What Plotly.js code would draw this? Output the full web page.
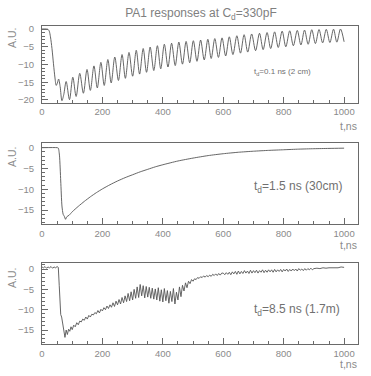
<!DOCTYPE html>
<html><head><meta charset="utf-8">
<script src="https://cdn.plot.ly/plotly-3.0.1.min.js"></script>
<style>html,body{margin:0;padding:0;background:#fff}#c{width:371px;height:376px}</style>
</head><body><div id="c"></div>
<script>
// Panel 1: td = 0.1 ns (peaks/troughs)
const t1 = [0,15,20,24,28,33,38,43,47,51,55,60,66,72,80,91,102,113,125,137,149,160,172,183,195,206,218,229,241,253,265,276,288,300,312,323,335,346,358,370,382,393,405,417,429,441,453,465,477,489,501,513,525,537,549,560,572,584,596,608,620,632,645,657,669,681,694,707,720,732,745,757,770,782,795,807,820,832,845,857,869,881,893,905,917,929,941,953,965,976,988,1000];
const v1 = [0,0,-0.1,-0.6,-2.2,-5.5,-9.8,-13.8,-15.9,-15.2,-14.1,-16.2,-20.2,-18.5,-14.8,-19.9,-13.6,-19.0,-12.5,-18.1,-11.4,-17.3,-10.4,-16.6,-9.4,-15.9,-8.6,-15.2,-7.9,-14.5,-7.2,-13.9,-6.6,-13.3,-6.0,-12.7,-5.5,-12.2,-5.1,-11.7,-4.7,-11.2,-4.3,-10.7,-4.0,-10.3,-3.7,-9.9,-3.5,-9.5,-3.3,-9.1,-3.1,-8.7,-2.9,-8.3,-2.7,-8.0,-2.5,-7.6,-2.2,-7.2,-1.9,-6.8,-1.6,-6.5,-1.4,-6.1,-1.2,-5.8,-1.0,-5.5,-0.8,-5.2,-0.6,-5.0,-0.5,-4.7,-0.4,-4.5,-0.3,-4.3,-0.2,-4.1,-0.15,-3.9,-0.1,-3.8,-0.05,-3.7,0.0,-3.6];

// Panel 2: td = 1.5 ns
const t2 = [0,50,54,58,62,66,70,74,78,82,90,100,120,140,160,180,200,225,250,275,300,325,350,375,400,450,500,550,600,650,700,750,800,850,900,950,1000];
const v2 = [0,0,-0.1,-2,-8,-14,-16,-16.5,-17.2,-16.6,-16.2,-15.4,-14.1,-12.9,-11.8,-10.8,-9.9,-8.9,-8.0,-7.2,-6.5,-5.8,-5.2,-4.6,-4.1,-3.2,-2.5,-1.9,-1.45,-1.1,-0.85,-0.65,-0.5,-0.35,-0.25,-0.18,-0.12];

// Panel 3: td = 8.5 ns
const t3 = [0,5,10,15,20,25,30,35,40,45,50,54,57,60,62,65,68,72,76,80,84,88,92,96,100,105,110,115,120,125,130,135,140,145,150,155,160,165,170,175,180,185,190,195,200,205,210,215,220,225,230,235,240,245,250,255,260,265,270,275,280,285,290,295,300,305,310,315,320,325,330,335,340,345,350,355,360,365,370,375,380,385,390,395,400,405,410,415,420,425,430,435,440,445,450,455,460,465,470,475,480,485,490,495,500,505,510,515,520,525,530,535,540,545,550,555,560,565,570,575,580,585,590,595,600,605,610,615,620,625,630,635,640,645,650,655,660,665,670,675,680,685,690,695,700,705,710,715,720,725,730,735,740,745,750,755,760,765,770,775,780,785,790,795,800,805,810,815,820,825,830,835,840,845,850,855,860,865,870,875,880,885,890,895,900,910,920,930,940,950,960,970,980,990,1000];
const v3 = [0.5,0.3,0.6,0.2,0.5,0.3,0.6,0.2,0.5,0.3,0.6,0.4,-4,-9,-11.2,-11.8,-13.5,-15.5,-16.8,-15.0,-16.1,-14.8,-15.3,-14.2,-14.9,-13.8,-14.2,-13.2,-13.7,-12.8,-13.0,-12.3,-12.6,-11.8,-12.3,-11.4,-11.8,-11.1,-11.3,-10.7,-11.0,-10.2,-10.8,-9.9,-10.3,-9.5,-10.0,-9.1,-9.7,-8.8,-9.4,-8.3,-9.2,-7.9,-8.8,-7.5,-8.6,-7.0,-8.3,-6.6,-8.0,-6.0,-7.8,-5.6,-7.6,-5.0,-7.2,-4.4,-7.0,-3.8,-6.6,-4.1,-7.1,-4.3,-6.9,-4.5,-7.2,-4.7,-7.4,-4.9,-7.6,-4.6,-7.9,-5.1,-8.1,-4.8,-7.8,-5.3,-8.4,-5.5,-8.0,-4.8,-8.6,-5.7,-7.6,-4.4,-6.8,-4.0,-5.4,-3.4,-4.6,-3.0,-3.6,-2.6,-3.0,-2.4,-2.6,-2.1,-2.3,-1.9,-2.1,-1.7,-2.0,-1.6,-1.9,-1.5,-1.8,-1.3,-1.6,-1.2,-1.6,-1.1,-1.5,-1.0,-1.0,-1.4,-0.9,-1.3,-0.8,-1.4,-0.7,-1.2,-0.6,-1.3,-0.5,-1.2,-0.6,-1.1,-0.4,-1.0,-0.5,-1.1,-0.3,-1.0,-0.4,-0.9,-0.3,-1.0,-0.4,-0.8,-0.2,-0.9,-0.3,-0.8,-0.2,-0.7,-0.2,-0.8,-0.1,-0.7,-0.2,-0.6,-0.1,-0.7,-0.1,-0.5,0.0,-0.6,-0.1,-0.5,0.0,-0.4,0.0,-0.5,0.1,-0.3,0.0,-0.4,0.1,-0.3,0.1,-0.2,0.2,-0.2,0.1,0.2,0.1,0.3,0.2,0.3,0.3,0.4,0.3,0.5,0.4];

const labels = ['t<sub>d</sub>=0.1 ns (2 cm)','t<sub>d</sub>=1.5 ns (30cm)','t<sub>d</sub>=8.5 ns (1.7m)'];

const W=371,H=376;
const gray='#8a8a8a', lineCol='#555555', frame='#6a6a6a';
const FONT='Liberation Sans, Arial, sans-serif';
function fx(px){return px/W;} function fy(py){return 1-py/H;}

const line = {color:lineCol,width:0.9};
const traces = [
 {x:t1,y:v1,type:'scatter',mode:'lines',line:Object.assign({shape:'spline',smoothing:0.9},line),xaxis:'x',yaxis:'y',hoverinfo:'skip'},
 {x:t2,y:v2,type:'scatter',mode:'lines',line:Object.assign({shape:'spline',smoothing:0.6},line),xaxis:'x2',yaxis:'y2',hoverinfo:'skip'},
 {x:t3,y:v3,type:'scatter',mode:'lines',line:line,xaxis:'x3',yaxis:'y3',hoverinfo:'skip'}
];

function xax(anchor){
 return {domain:[fx(42),fx(358)],range:[0,1046],anchor:anchor,showline:true,mirror:true,linecolor:frame,linewidth:1,
  showgrid:false,zeroline:false,ticks:'inside',ticklen:6,tickcolor:frame,dtick:200,tick0:0,ticklabelstandoff:0,
  minor:{ticks:'inside',ticklen:3,dtick:50,tickcolor:frame,showgrid:false},
  tickfont:{family:FONT,size:9.5,color:gray}};
}
function yax(anchor,top,bot,r){
 return {domain:[fy(bot),fy(top)],range:r,anchor:anchor,showline:true,mirror:true,linecolor:frame,linewidth:1,
  showgrid:false,zeroline:false,ticks:'inside',ticklen:6,tickcolor:frame,dtick:5,tick0:0,ticklabelstandoff:5,
  minor:{ticks:'inside',ticklen:3,dtick:1,tickcolor:frame,showgrid:false},
  tickfont:{family:FONT,size:9.5,color:gray}};
}
const p=[[26,103],[143.3,224.3],[262.7,344.3]];
const layout = {
 width:W,height:H,margin:{l:0,r:0,t:0,b:0},showlegend:false,paper_bgcolor:'#fff',plot_bgcolor:'#fff',
 title:{text:'PA1 responses at C<sub>d</sub>=330pF',x:fx(201),xanchor:'center',y:fy(13),yanchor:'middle',font:{family:FONT,size:12,color:'#808080'}},
 xaxis:xax('y'), yaxis:yax('x',p[0][0],p[0][1],[-20.85,0.85]),
 xaxis2:xax('y2'), yaxis2:yax('x2',p[1][0],p[1][1],[-18.4,1.05]),
 xaxis3:xax('y3'), yaxis3:yax('x3',p[2][0],p[2][1],[-18.5,1.55]),
 annotations:[]
};
const auY=[38,157,278], tnsY=[126,245,364];
for(let i=0;i<3;i++){
 layout.annotations.push({xref:'paper',yref:'paper',x:fx(12),y:fy(auY[i]),text:'A.U.',textangle:-90,showarrow:false,xanchor:'center',yanchor:'middle',font:{family:FONT,size:10.5,color:gray}});
 layout.annotations.push({xref:'paper',yref:'paper',x:fx(359),y:fy(tnsY[i]),text:'t,ns',showarrow:false,xanchor:'right',yanchor:'middle',font:{family:FONT,size:10.5,color:gray}});
}
layout.annotations.push({xref:'paper',yref:'paper',x:fx(252),y:fy(72),text:labels[0],showarrow:false,xanchor:'left',yanchor:'middle',font:{family:FONT,size:8,color:'#707070'}});
layout.annotations.push({xref:'paper',yref:'paper',x:fx(252),y:fy(187),text:labels[1],showarrow:false,xanchor:'left',yanchor:'middle',font:{family:FONT,size:12,color:'#707070'}});
layout.annotations.push({xref:'paper',yref:'paper',x:fx(252),y:fy(310),text:labels[2],showarrow:false,xanchor:'left',yanchor:'middle',font:{family:FONT,size:12,color:'#707070'}});

Plotly.newPlot('c',traces,layout,{staticPlot:true,displayModeBar:false});
</script></body></html>
